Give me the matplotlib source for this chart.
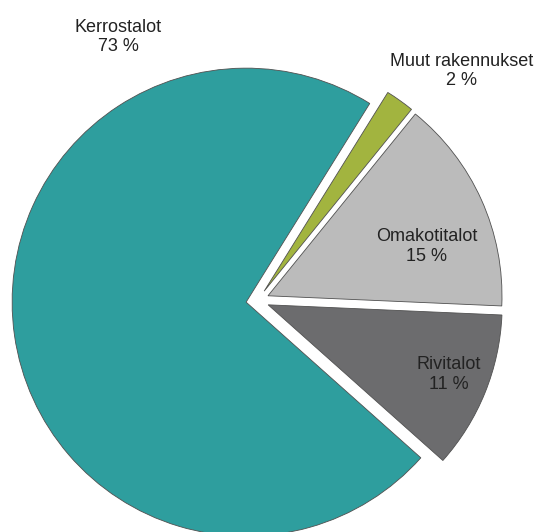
import matplotlib
matplotlib.use("Agg")
import matplotlib.pyplot as plt

categories = ["Kerrostalot", "Muut rakennukset", "Omakotitalot", "Rivitalot"]
values = [73, 2, 15, 11]
colors = ["#2E9E9E", "#A2B43F", "#BBBBBB", "#6C6C6E"]

W, H = 537, 532
fig = plt.figure(figsize=(W / 100, H / 100), dpi=100)
ax = fig.add_axes([0, 0, 1, 1])

gap = 11.5
explode = [gap] * len(values)
cx, cy, r = 257.5, H - 300.5, 234
ax.pie(values, colors=colors, explode=explode, startangle=-41.7,
       counterclock=False, center=(cx, cy), radius=r, frame=True,
       wedgeprops=dict(edgecolor="#505050", linewidth=0.6))
ax.set_xlim(0, W)
ax.set_ylim(0, H)
ax.axis("off")

label_pos = [(118, 37), (462, 71), (427, 246.5), (449, 374.5)]
for name, v, (x, y) in zip(categories, values, label_pos):
    ax.text(x, H - y, f"{name}\n{v} %", ha="center", va="center",
            fontsize=13, family="Liberation Sans", color="#222222",
            linespacing=1.22, clip_on=False)

fig.savefig("out.png", dpi=100)
